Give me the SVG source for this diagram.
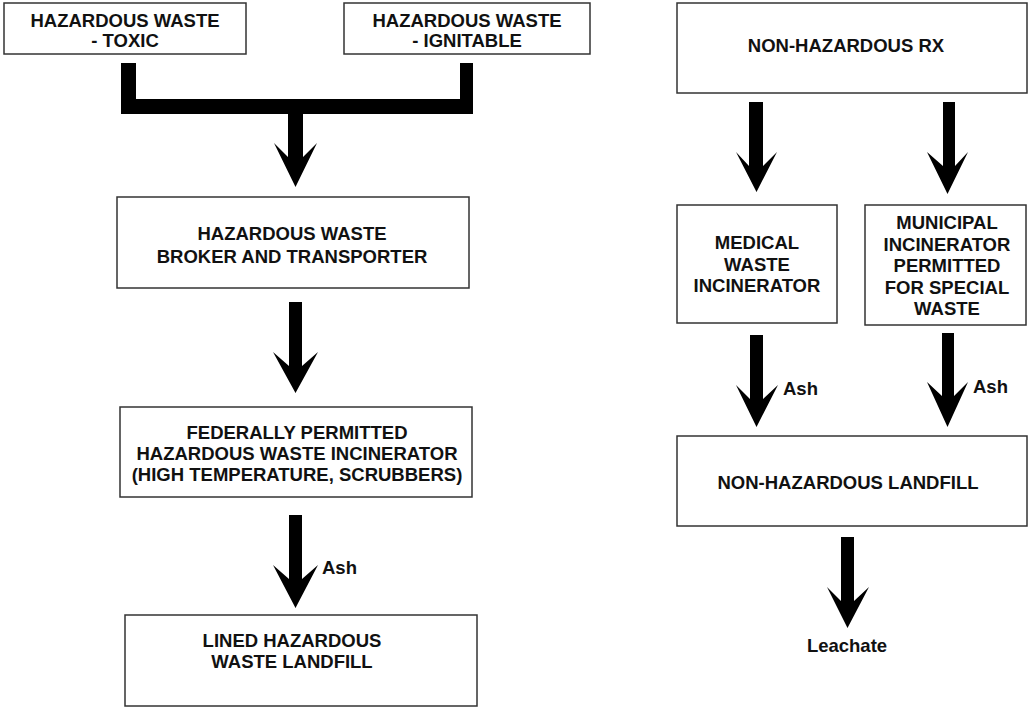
<svg xmlns="http://www.w3.org/2000/svg" width="1029" height="709" viewBox="0 0 1029 709">
<style>
.box{fill:#fff;stroke:#333;stroke-width:1.5}
.t{font-family:"Liberation Sans",Arial,sans-serif;font-weight:bold;font-size:18.5px;fill:#111;text-anchor:middle}
.lbl{font-family:"Liberation Sans",Arial,sans-serif;font-weight:bold;font-size:18.5px;fill:#111}
.arr{fill:#000}
</style>
<rect width="1029" height="709" fill="#fff"/>
<g id="connectors">
<path class="arr" d="M121,63 H136 V99 H460 V63 H473 V114 H303 V157 L317,143 L295.5,187 L274,143 L288,157 V114 H121 Z"/>
<path class="arr" d="M289,302 H302 V366 L318,352 L295.5,393 L273,352 L289,366 Z"/>
<path class="arr" d="M289,515 H302 V579 L318,565 L295.5,608 L273,565 L289,579 Z"/>
<text class="lbl" x="322" y="574">Ash</text>
<path class="arr" d="M749,102 H763 V166 L777,152 L756.5,192 L736,152 L749,166 Z"/>
<path class="arr" d="M943,102 H955 V166 L968,152 L947.5,194 L927,152 L943,166 Z"/>
<path class="arr" d="M750,335 H763 V399 L778,385 L756.5,427 L736,385 L750,399 Z"/>
<text class="lbl" x="783" y="395">Ash</text>
<path class="arr" d="M942,333 H954 V396 L968,382 L947.5,427 L927,382 L942,396 Z"/>
<text class="lbl" x="973" y="393">Ash</text>
<path class="arr" d="M841,537 H854 V601 L869,587 L847.5,628 L827,587 L841,601 Z"/>
<text class="t" x="847" y="652">Leachate</text>
</g>
<g id="toxic">
<rect class="box" x="4" y="3" width="242" height="51"/>
<text class="t" x="125" y="26.5">HAZARDOUS WASTE</text>
<text class="t" x="125" y="46.5">- TOXIC</text>
</g>
<g id="ignitable">
<rect class="box" x="344" y="3" width="246" height="51"/>
<text class="t" x="467" y="26.5">HAZARDOUS WASTE</text>
<text class="t" x="467" y="46.5">- IGNITABLE</text>
</g>
<g id="broker">
<rect class="box" x="117" y="197" width="352" height="91"/>
<text class="t" x="292" y="240">HAZARDOUS WASTE</text>
<text class="t" x="292" y="262.5">BROKER AND TRANSPORTER</text>
</g>
<g id="federal">
<rect class="box" x="120" y="407" width="352" height="90"/>
<text class="t" x="297" y="439">FEDERALLY PERMITTED</text>
<text class="t" x="297" y="460">HAZARDOUS WASTE INCINERATOR</text>
<text class="t" x="297" y="481">(HIGH TEMPERATURE, SCRUBBERS)</text>
</g>
<g id="lined">
<rect class="box" x="125" y="615" width="352" height="91"/>
<text class="t" x="292" y="647">LINED HAZARDOUS</text>
<text class="t" x="292" y="668">WASTE LANDFILL</text>
</g>
<g id="nonhazrx">
<rect class="box" x="677" y="3" width="350" height="90"/>
<text class="t" x="846" y="52">NON-HAZARDOUS RX</text>
</g>
<g id="medical">
<rect class="box" x="677" y="205" width="160" height="118"/>
<text class="t" x="757" y="249">MEDICAL</text>
<text class="t" x="757" y="270.5">WASTE</text>
<text class="t" x="757" y="292">INCINERATOR</text>
</g>
<g id="municipal">
<rect class="box" x="865" y="205" width="161" height="120"/>
<text class="t" x="947" y="229">MUNICIPAL</text>
<text class="t" x="947" y="250.5">INCINERATOR</text>
<text class="t" x="947" y="272">PERMITTED</text>
<text class="t" x="947" y="293.5">FOR SPECIAL</text>
<text class="t" x="947" y="315">WASTE</text>
</g>
<g id="landfill">
<rect class="box" x="677" y="436" width="350" height="90"/>
<text class="t" x="848" y="489">NON-HAZARDOUS LANDFILL</text>
</g>
</svg>
